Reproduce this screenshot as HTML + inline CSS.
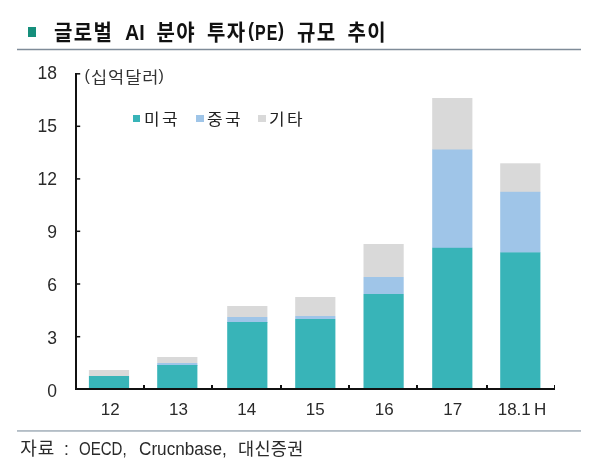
<!DOCTYPE html>
<html lang="ko">
<head>
<meta charset="utf-8">
<title>글로벌 AI 분야 투자(PE) 규모 추이</title>
<style>
html,body{margin:0;padding:0;background:#fff;}
body{width:600px;height:465px;position:relative;overflow:hidden;font-family:"Liberation Sans","Noto Sans CJK KR",sans-serif;color:#222;}
.t{position:absolute;white-space:nowrap;line-height:1;}
.tw{top:20px;line-height:24px;height:24px;font-size:20px;font-weight:bold;color:#111;letter-spacing:1.3px;transform:scaleY(1.1);transform-origin:0 52%;}
.la{display:inline-block;line-height:24px;font-size:20px;letter-spacing:0;transform:scaleX(0.93);transform-origin:0 50%;vertical-align:baseline;}
.yl{font-size:17.5px;width:40px;text-align:right;left:17px;color:#2a2a2a;}
.xl{font-size:17px;width:68px;text-align:center;top:401px;color:#2a2a2a;}
.un{font-size:16px;color:#333;}
.hx{letter-spacing:0.83px;transform:scaleX(1.1);transform-origin:0 50%;}
.pr{position:relative;top:-1.5px;}
.lg{font-size:16px;top:112px;letter-spacing:2.26px;color:#222;transform:scaleX(1.06);transform-origin:0 50%;}
.src{top:440.5px;font-size:17.5px;color:#2a2a2a;}
.sl{display:inline-block;font-size:17.5px;transform-origin:0 50%;}
svg{position:absolute;left:0;top:0;}
</style>
</head>
<body>
<svg width="600" height="465" viewBox="0 0 600 465" shape-rendering="crispEdges">
<rect x="28" y="27" width="8" height="10" fill="#168f7c"/>
<rect x="17" y="48.75" width="564" height="1.5" fill="#7f8c99" shape-rendering="auto"/>
<rect x="17" y="430.3" width="564" height="1.3" fill="#93a2ae" shape-rendering="auto"/>
<!-- bars -->
<g shape-rendering="auto">
<rect x="88.9" y="370" width="40.2" height="6" fill="#d9d9d9"/>
<rect x="88.9" y="376" width="40.2" height="13" fill="#38b4b8"/>

<rect x="157.2" y="357" width="40.2" height="6" fill="#d9d9d9"/>
<rect x="157.2" y="363" width="40.2" height="3" fill="#9fc5e8"/>
<rect x="157.2" y="365" width="40.2" height="24" fill="#38b4b8"/>

<rect x="227.2" y="306" width="40.2" height="11" fill="#d9d9d9"/>
<rect x="227.2" y="317" width="40.2" height="6" fill="#9fc5e8"/>
<rect x="227.2" y="322" width="40.2" height="67" fill="#38b4b8"/>

<rect x="295.2" y="297" width="40.2" height="19" fill="#d9d9d9"/>
<rect x="295.2" y="316" width="40.2" height="3" fill="#9fc5e8"/>
<rect x="295.2" y="319" width="40.2" height="70" fill="#38b4b8"/>

<rect x="363.5" y="244" width="40.2" height="33" fill="#d9d9d9"/>
<rect x="363.5" y="277" width="40.2" height="17" fill="#9fc5e8"/>
<rect x="363.5" y="294" width="40.2" height="95" fill="#38b4b8"/>

<rect x="432.2" y="98" width="40.2" height="52" fill="#d9d9d9"/>
<rect x="432.2" y="149.5" width="40.2" height="98.5" fill="#9fc5e8"/>
<rect x="432.2" y="247.8" width="40.2" height="141.2" fill="#38b4b8"/>

<rect x="500.2" y="163.3" width="40.2" height="29" fill="#d9d9d9"/>
<rect x="500.2" y="191.8" width="40.2" height="61" fill="#9fc5e8"/>
<rect x="500.2" y="252.4" width="40.2" height="136.6" fill="#38b4b8"/>
</g>
<!-- axes -->
<g fill="#111">
<rect x="75" y="73" width="2" height="317"/>
<rect x="75" y="388" width="480" height="2"/>
<rect x="77" y="73.05" width="3.2" height="1.5" shape-rendering="auto"/>
<rect x="77" y="125.55" width="3.2" height="1.5" shape-rendering="auto"/>
<rect x="77" y="178.15" width="3.2" height="1.5" shape-rendering="auto"/>
<rect x="77" y="230.55" width="3.2" height="1.5" shape-rendering="auto"/>
<rect x="77" y="283.25" width="3.2" height="1.5" shape-rendering="auto"/>
<rect x="77" y="335.95" width="3.2" height="1.5" shape-rendering="auto"/>
<rect x="143" y="385" width="1.5" height="4"/>
<rect x="211" y="385" width="1.5" height="4"/>
<rect x="280" y="385" width="1.5" height="4"/>
<rect x="348" y="385" width="1.5" height="4"/>
<rect x="416" y="385" width="1.5" height="4"/>
<rect x="486" y="385" width="1.5" height="4"/>
<rect x="553.5" y="385" width="1.5" height="4"/>
</g>
<!-- legend markers -->
<rect x="132.6" y="114.5" width="7.4" height="7.5" fill="#38b4b8"/>
<rect x="196.4" y="114.5" width="7.4" height="7.5" fill="#9fc5e8"/>
<rect x="258.3" y="114.5" width="7.4" height="7.5" fill="#d9d9d9"/>
</svg>
<div id="title">
<span class="t tw" style="left:54px">글로벌</span>
<span class="t tw" style="left:125px"><span class="la" style="font-size:20.5px;transform:scaleX(0.96);position:relative;top:-0.4px">AI</span></span>
<span class="t tw" style="left:156.5px">분야</span>
<span class="t tw" style="left:207px">투자</span><span class="t tw" style="left:247.5px"><span class="la" style="font-size:19px;transform:scaleX(0.95);position:relative;top:-1.8px">(</span></span><span class="t tw" style="left:255px"><span class="la" style="font-size:20.5px;transform:scaleX(0.78);letter-spacing:1.4px;position:relative;top:-0.4px">PE</span></span><span class="t tw" style="left:277.5px"><span class="la" style="font-size:19px;transform:scaleX(0.95);position:relative;top:-1.8px">)</span></span>
<span class="t tw" style="left:297px">규모</span>
<span class="t tw" style="left:347.6px">추이</span>
</div>
<div class="t yl" style="top:65.45px">18</div>
<div class="t yl" style="top:118.40px">15</div>
<div class="t yl" style="top:171.30px">12</div>
<div class="t yl" style="top:224.30px">9</div>
<div class="t yl" style="top:277.20px">6</div>
<div class="t yl" style="top:330.20px">3</div>
<div class="t yl" style="top:383.10px">0</div>
<div id="unit"><span class="t un" style="left:84.5px;top:68px">(</span><span class="t un hx" style="left:91.3px;top:69.5px">십억달러</span><span class="t un" style="left:158.5px;top:68px">)</span></div>
<div class="t lg" style="left:144px">미국</div>
<div class="t lg" style="left:207px">중국</div>
<div class="t lg" style="left:269.2px">기타</div>
<div class="t xl" style="left:76.2px">12</div>
<div class="t xl" style="left:144.5px">13</div>
<div class="t xl" style="left:212.8px">14</div>
<div class="t xl" style="left:281.2px">15</div>
<div class="t xl" style="left:350.3px">16</div>
<div class="t xl" style="left:418.8px">17</div>
<div class="t xl" style="left:497.7px;text-align:left">18.1<span style="margin-left:3.3px">H</span></div>
<div id="src">
<span class="t src" style="left:20.3px;font-size:18px;letter-spacing:1px;top:440.2px">자료</span>
<span class="t src" style="left:64px">:</span>
<span class="t src" style="left:78.5px"><span class="sl" style="transform:scaleX(0.86)">OECD,</span></span>
<span class="t src" style="left:138.5px"><span class="sl" style="transform:scaleX(0.98)">Crucnbase,</span></span>
<span class="t src" style="left:238px;letter-spacing:0.3px">대신증권</span>
</div>
</body>
</html>
